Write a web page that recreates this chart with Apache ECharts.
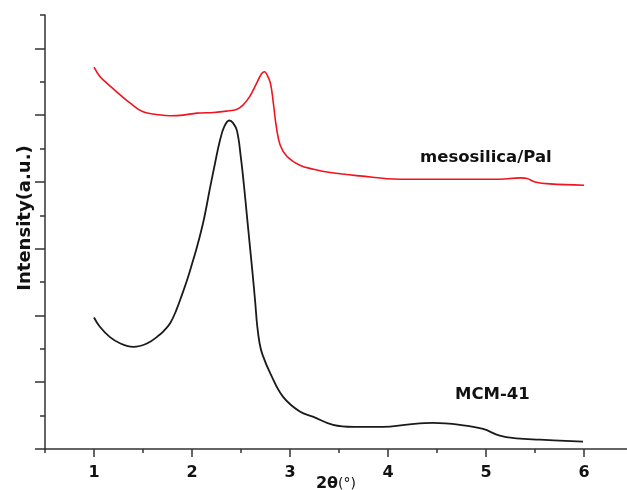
<!DOCTYPE html>
<html>
<head>
<meta charset="utf-8">
<script src="https://cdn.jsdelivr.net/npm/echarts@6/dist/echarts.min.js"></script>
<style>
html,body{margin:0;padding:0;background:#fff;}
#chart{width:627px;height:490px;}
</style>
</head>
<body>
<div id="chart"></div>
<script>
// ---- data ----
const xTickLabels = [1, 2, 3, 4, 5, 6];
const seriesNames = ['mesosilica/Pal', 'MCM-41'];

const redX = [1.00,1.06,1.13,1.20,1.27,1.37,1.50,1.64,1.78,1.91,2.05,2.22,2.35,2.46,2.52,2.59,2.66,2.71,2.74,2.76,2.80,2.83,2.86,2.90,2.97,3.10,3.24,3.41,3.71,4.12,4.63,5.14,5.35,5.42,5.50,5.65,6.00];
const redY = [5.72,5.58,5.48,5.39,5.30,5.18,5.05,5.01,4.99,5.00,5.03,5.04,5.06,5.09,5.15,5.28,5.48,5.62,5.65,5.62,5.48,5.18,4.83,4.55,4.38,4.25,4.19,4.14,4.09,4.04,4.04,4.04,4.06,4.05,4.00,3.97,3.95];

const blackX = [1.00,1.06,1.16,1.27,1.40,1.54,1.67,1.72,1.78,1.84,1.90,1.95,2.00,2.05,2.12,2.18,2.235,2.285,2.33,2.38,2.42,2.46,2.50,2.53,2.56,2.59,2.62,2.645,2.665,2.69,2.72,2.80,2.93,3.10,3.24,3.44,3.65,3.95,4.22,4.46,4.74,4.97,5.14,5.31,5.55,5.99];
const blackY = [1.97,1.83,1.68,1.58,1.53,1.58,1.71,1.78,1.89,2.08,2.32,2.53,2.77,3.02,3.43,3.88,4.28,4.62,4.83,4.92,4.88,4.76,4.35,3.95,3.50,3.05,2.60,2.20,1.85,1.58,1.41,1.13,0.78,0.56,0.48,0.36,0.33,0.33,0.37,0.39,0.36,0.30,0.20,0.16,0.14,0.11];

const zip = (xs, ys) => xs.map((x, i) => [x, ys[i]]);

const axisColor = '#333';
const FONT = 'DejaVu Sans';

const chart = echarts.init(document.getElementById('chart'), null, {renderer: 'canvas'});
chart.setOption({
  backgroundColor: '#fff',
  animation: false,
  grid: [
    {left: -4, top: -18.4, width: 686, height: 467.4, containLabel: false, outerBoundsMode: 'none'},
    {left: 45, top: 15, width: 582, height: 434, containLabel: false, outerBoundsMode: 'none'}
  ],
  xAxis: [
    {
      gridIndex: 0, type: 'value', min: 0, max: 7, interval: 1,
      axisLine: {show: false},
      axisTick: {show: true, length: 8, lineStyle: {color: axisColor, width: 1.5}},
      minorTick: {show: true, splitNumber: 2, length: 4, lineStyle: {color: axisColor, width: 1.5}},
      splitLine: {show: false}, minorSplitLine: {show: false},
      axisLabel: {
        margin: 16, color: '#111', fontFamily: FONT, fontWeight: 'bold', fontSize: 16,
        formatter: v => (xTickLabels.indexOf(v) >= 0 ? String(v) : '')
      }
    },
    {
      gridIndex: 1, type: 'value', min: 0, max: 1,
      axisLine: {show: true, lineStyle: {color: axisColor, width: 1.5}},
      axisTick: {show: false}, axisLabel: {show: false}, splitLine: {show: false},
      name: '{b|2θ}{n|(°)}', nameLocation: 'middle', nameGap: 27,
      nameTextStyle: {
        rich: {
          b: {fontFamily: FONT, fontWeight: 'bold', fontSize: 16, color: '#111'},
          n: {fontFamily: FONT, fontSize: 14, color: '#111'}
        }
      }
    }
  ],
  yAxis: [
    {
      gridIndex: 0, type: 'value', min: 0, max: 7, interval: 1, offset: -49,
      axisLine: {show: false},
      axisTick: {show: true, length: 10, lineStyle: {color: axisColor, width: 1.5}},
      minorTick: {show: true, splitNumber: 2, length: 5, lineStyle: {color: axisColor, width: 1.5}},
      splitLine: {show: false}, minorSplitLine: {show: false},
      axisLabel: {show: false}
    },
    {
      gridIndex: 1, type: 'value', min: 0, max: 1,
      axisLine: {show: true, lineStyle: {color: axisColor, width: 1.5}},
      axisTick: {show: false}, axisLabel: {show: false}, splitLine: {show: false},
      name: 'Intensity(a.u.)', nameLocation: 'middle', nameGap: 11,
      nameTextStyle: {fontFamily: FONT, fontWeight: 'bold', fontSize: 18, color: '#111', padding: [0, 0, 0, 28]}
    }
  ],
  series: [
    {
      name: seriesNames[0], type: 'line', xAxisIndex: 0, yAxisIndex: 0,
      data: zip(redX, redY), showSymbol: false, smooth: 0.4,
      lineStyle: {color: '#f0141e', width: 1.6}
    },
    {
      name: seriesNames[1], type: 'line', xAxisIndex: 0, yAxisIndex: 0,
      data: zip(blackX, blackY), showSymbol: false, smooth: 0.4,
      lineStyle: {color: '#1a1a1a', width: 1.8}
    }
  ],
  graphic: [
    {type: 'text', left: 420, top: 149, style: {text: seriesNames[0], fontFamily: FONT, fontWeight: 'bold', fontSize: 16.5, fill: '#111'}},
    {type: 'text', left: 455, top: 386, style: {text: seriesNames[1], fontFamily: FONT, fontWeight: 'bold', fontSize: 16.5, fill: '#111'}}
  ]
});
</script>
</body>
</html>
